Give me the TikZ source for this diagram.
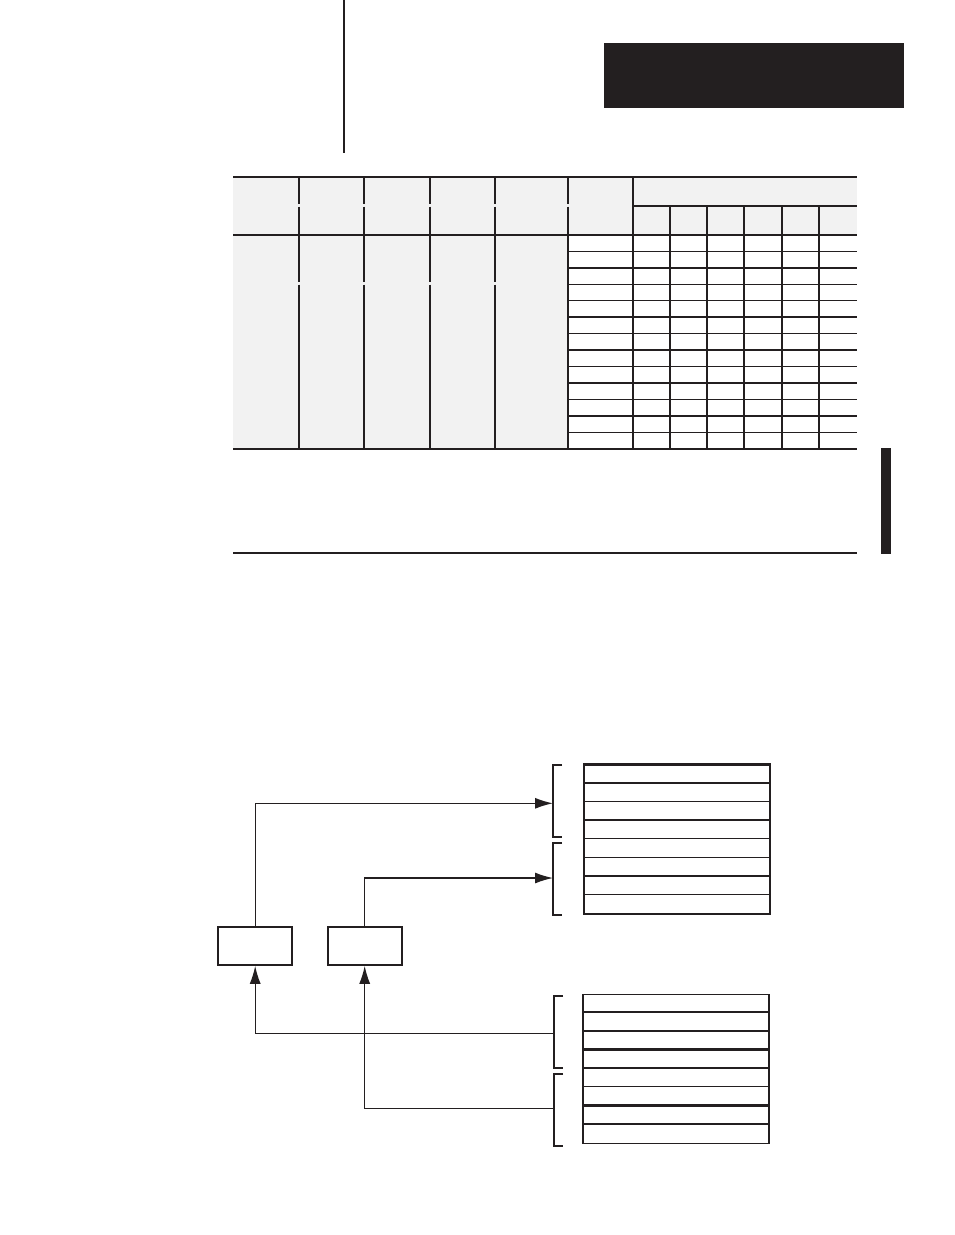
\documentclass[tikz,border=0pt]{standalone}
\usepackage{tikz}
\usepackage{xcolor}
\usetikzlibrary{arrows.meta, positioning, calc}
\definecolor{tablegray}{HTML}{F2F2F2}
\definecolor{inkblack}{HTML}{231F20}

\begin{document}
\begin{tikzpicture}[
    x=1pt, y=-1pt,
    >=latex,
    color=inkblack,
    line width=1.3pt,
    unitbox/.style={
      rectangle,
      draw,
      line width=1.6pt,
      inner sep=0pt,
      minimum width=74pt,
      minimum height=38pt
    },
    stackbox/.style={
      rectangle,
      draw,
      line width=1.3pt,
      inner sep=0pt,
      minimum width=186pt,
      minimum height=149pt
    },
    arrowstyle/.style={
      -{Latex[length=18pt, width=11pt]},
      line width=1.3pt
    },
    bracketline/.style={line width=2pt},
    thickrule/.style={line width=2.2pt}
]
\useasboundingbox (0,0) rectangle (954,1235);

% 1. PAGE MARKS
\draw (344,0) -- (344,153);
\fill[inkblack] (604,43) rectangle (904,108);
\fill[inkblack] (881,448) rectangle (891,554);

% 2. TABLE
\fill[tablegray] (233,177) rectangle (857,235);
\fill[tablegray] (233,235) rectangle (568,449);
\draw[thickrule] (233,177) -- (857,177);
\draw[thickrule] (233,235) -- (857,235);
\draw[thickrule] (233,449) -- (857,449);
\draw[line width=1.8pt] (233,553) -- (857,553);
\draw (633,206) -- (857,206);

\foreach \x/\lw in {299/1.3, 364/1.3, 430/2, 495/2, 568/2} {
  \draw[line width=\lw pt] (\x,177) -- (\x,204.3);
  \draw[line width=\lw pt] (\x,206.7) -- (\x,235);
}
\foreach \x/\lw in {299/1.3, 364/1.3, 430/2, 495/2} {
  \draw[line width=\lw pt] (\x,235) -- (\x,282);
  \draw[line width=\lw pt] (\x,284.6) -- (\x,449);
}
\draw[line width=2pt] (568,235) -- (568,449);
\draw[line width=2pt] (633,177) -- (633,449);
\foreach \x/\lw in {670/1.3, 707/1.3, 744/1.8, 782/1.3, 819/1.3}
  \draw[line width=\lw pt] (\x,206) -- (\x,449);
\foreach \i/\lw in {1/1.3, 2/1.3, 3/1.3, 4/1.3, 5/2, 6/1.3, 7/2, 8/1.3, 9/2, 10/1.3, 11/2, 12/1.3}
  \draw[line width=\lw pt] (568,{235+\i*16.46}) -- (857,{235+\i*16.46});

% 3. DIAGRAM NODES
\node[unitbox] (unitA) at (255.2,946) {};
\node[unitbox] (unitB) at (364.7,946) {};
\node[stackbox] (outstack) at (677,839.5) {};
\node[stackbox] (instack) at (676,1068.8) {};

% rows in the stacks
\foreach \i/\lw in {0/2.2, 1/2.2, 2/1.2, 3/2.2, 4/1.2, 5/1.2, 6/2.2, 7/1.2}
  \draw[line width=\lw pt] ($(outstack.north west)+(0,\i*18.625)$) -- ($(outstack.north east)+(0,\i*18.625)$);
\foreach \i/\lw in {1/2.2, 2/1.2, 3/2.2, 4/2.2, 5/1.2, 6/2.2, 7/2.2}
  \draw[line width=\lw pt] ($(instack.north west)+(0,\i*18.625)$) -- ($(instack.north east)+(0,\i*18.625)$);

% brackets
\draw[bracketline] (562,765) -- (553,765) -- (553,836.7) -- (562,836.7);
\draw[bracketline] (562,842.7) -- (553,842.7) -- (553,914.7) -- (562,914.7);
\draw[bracketline] (563,996) -- (554,996) -- (554,1068.3) -- (563,1068.3);
\draw[bracketline] (563,1074.3) -- (554,1074.3) -- (554,1145.7) -- (563,1145.7);

\coordinate (outA) at (553,803.3);
\coordinate (outB) at (553,878);
\coordinate (inA) at (554,1033.3);
\coordinate (inB) at (554,1108.7);

% 4. ARROWS
\draw[arrowstyle] (unitA.north) |- (outA);
\draw[arrowstyle] (unitB.north) |- (outB);
\draw[arrowstyle] (inA) -| (unitA.south);
\draw[arrowstyle] (inB) -| (unitB.south);

\end{tikzpicture}
\end{document}
